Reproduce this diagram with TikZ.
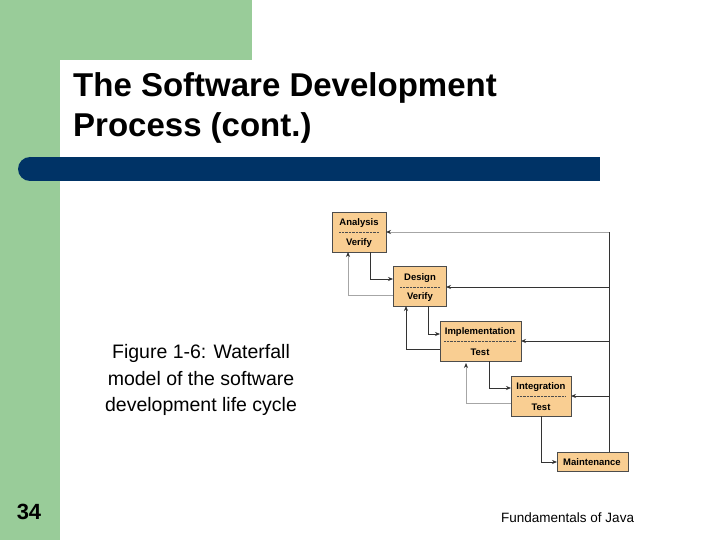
\documentclass[tikz,border=0pt]{standalone}
\usepackage{fontspec}
\setmainfont{Liberation Sans}
\usetikzlibrary{arrows.meta}
\definecolor{gr}{HTML}{99CC99}
\definecolor{bar}{HTML}{003366}
\definecolor{bx}{HTML}{F9CE92}
\begin{document}
\begin{tikzpicture}[x=1pt,y=-1pt,
  stage/.style={draw=black!70,fill=bx,line width=0.7pt},
  lab/.style={font=\bfseries\fontsize{9.5}{10}\selectfont,inner sep=0pt},
  dk/.style={draw=black!80,line width=0.7pt,-{Stealth[length=5pt,width=4pt]}},
  lt/.style={draw=black!35,line width=0.7pt,-{Stealth[length=5pt,width=4pt,color=black!80]}}]
\useasboundingbox (0,0) rectangle (720,540);
\fill[white] (0,0) rectangle (720,540);
\fill[gr] (0,0) rectangle (60,540);
\fill[gr] (0,0) rectangle (252,60);
\fill[white] (60,540) -- (60,75) arc (180:90:15) -- (252,60) -- (252,540) -- cycle;
\fill[bar] (30,157) rectangle (600,181);
\fill[bar] (30,169) circle (12);
\node[anchor=west,font=\bfseries\fontsize{33}{40}\selectfont,align=left,inner sep=0pt] (title) at (73,108) {The Software Development\\Process (cont.)};
\node[font=\fontsize{19.5}{26.5}\selectfont,align=center] (cap) at (201,380) {Figure 1-6: Waterfall\\model of the software\\development life cycle};
\node[font=\bfseries\fontsize{22}{24}\selectfont] (num) at (29,512) {34};
\node[font=\fontsize{13.5}{15}\selectfont,anchor=west,inner sep=0pt] (foot) at (501,518) {Fundamentals of Java};
% boxes
\path[stage] (332,212) rectangle (386,252);
\path[stage] (393,266) rectangle (446,306);
\path[stage] (440,321) rectangle (521,361);
\path[stage] (511,376) rectangle (571,416);
\path[stage] (557,452) rectangle (628,471);
\node[lab] (a1) at (359,223) {Analysis};
\node[lab] (a2) at (359,243) {Verify};
\node[lab] (d1) at (420,278) {Design};
\node[lab] (d2) at (420,297) {Verify};
\node[lab] (i1) at (480,332) {Implementation};
\node[lab] (i2) at (480,352) {Test};
\node[lab] (g1) at (541,387) {Integration};
\node[lab] (g2) at (541,407) {Test};
\node[lab] (m1) at (592,462) {Maintenance};
\foreach \x/\y/\w in {359/232/20,420/287/20,480/341/36,541/396/24}
  \draw[black!70,densely dotted] (\x-\w,\y) -- (\x+\w,\y);
% forward
\draw[dk] (370,252) |- (393,279);
\draw[dk] (428,306) |- (440,334);
\draw[dk] (489,361) |- (511,388);
\draw[dk] (541,416) |- (557,462);
% back
\draw[lt] (393,295) -| (348,252);
\draw[dk] (440,349) -| (406,306);
\draw[lt] (511,403) -| (466,363);
% feedback
\draw[black!80,line width=0.7pt] (609,452) -- (609,232);
\draw[lt] (609,232) -- (386,232);
\draw[dk] (609,287) -- (446,287);
\draw[dk] (609,341) -- (521,341);
\draw[dk] (609,396) -- (571,396);
\end{tikzpicture}
\end{document}
